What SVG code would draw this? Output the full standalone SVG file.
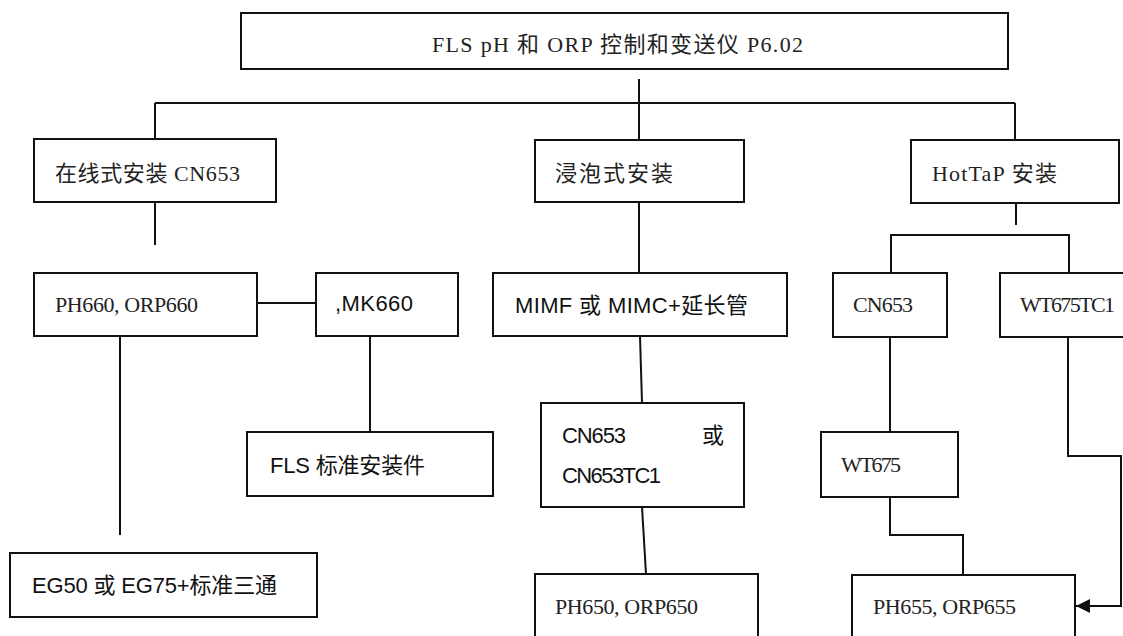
<svg xmlns="http://www.w3.org/2000/svg" width="1123" height="636" viewBox="0 0 1123 636">
  <defs>
    <style>
      .box { fill: #ffffff; stroke: #111111; stroke-width: 2; }
      .wire { fill: none; stroke: #111111; stroke-width: 2; }
      .serif { font-family: "Liberation Serif", "Noto Sans CJK SC", serif; font-size: 22px; fill: #222222; }
      .sans { font-family: "Liberation Sans", "Noto Sans CJK SC", sans-serif; font-size: 22px; fill: #111111; }
    </style>
    <marker id="arrowhead" viewBox="0 0 14 14" refX="14" refY="7" markerWidth="14" markerHeight="14" markerUnits="userSpaceOnUse" orient="auto">
      <path d="M0 0 L14 7 L0 14 Z" fill="#111111"/>
    </marker>
  </defs>
  <rect width="1123" height="636" fill="#ffffff"/>

  <!-- connectors -->
  <g id="connectors">
    <path class="wire" d="M639 79 V140"/>
    <path class="wire" d="M155 103 H1015"/>
    <path class="wire" d="M155 103 V139"/>
    <path class="wire" d="M1015 103 V140"/>
    <path class="wire" d="M155 202 V245"/>
    <path class="wire" d="M639 202 V273"/>
    <path class="wire" d="M1016 203 V225"/>
    <path class="wire" d="M891 273 V235 H1069 V273"/>
    <path class="wire" d="M257 303 H316"/>
    <path class="wire" d="M120 336 V535"/>
    <path class="wire" d="M370 316 V432"/>
    <path class="wire" d="M640 336 L642 403"/>
    <path class="wire" d="M642 507 L646 574"/>
    <path class="wire" d="M890 337 V432"/>
    <path class="wire" d="M890 497 V535 H963 V575"/>
    <path class="wire" d="M1068 337 V456 H1121 V606 H1076" marker-end="url(#arrowhead)"/>
  </g>

  <!-- root -->
  <g id="node-root">
    <rect class="box" x="241" y="13" width="767" height="56"/>
    <text class="serif" x="432" y="52" textLength="371">FLS pH 和 ORP 控制和变送仪 P6.02</text>
  </g>

  <!-- level 1 -->
  <g id="node-inline">
    <rect class="box" x="34" y="139" width="242" height="63"/>
    <text class="serif" x="55" y="181" textLength="185">在线式安装 CN653</text>
  </g>
  <g id="node-immersion">
    <rect class="box" x="535" y="140" width="209" height="62"/>
    <text class="serif" x="555" y="181" textLength="118">浸泡式安装</text>
  </g>
  <g id="node-hottap">
    <rect class="box" x="911" y="140" width="208" height="63"/>
    <text class="serif" x="932" y="181" textLength="125">HotTaP 安装</text>
  </g>

  <!-- level 2 -->
  <g id="node-ph660">
    <rect class="box" x="34" y="273" width="223" height="63"/>
    <text class="serif" x="55" y="312" textLength="143">PH660, ORP660</text>
  </g>
  <g id="node-mk660">
    <rect class="box" x="316" y="273" width="142" height="63"/>
    <text class="sans" x="335" y="311" textLength="78">,MK660</text>
  </g>
  <g id="node-mimf">
    <rect class="box" x="493" y="273" width="294" height="63"/>
    <text class="sans" x="515" y="313" textLength="233">MIMF 或 MIMC+延长管</text>
  </g>
  <g id="node-cn653-hot">
    <rect class="box" x="833" y="273" width="114" height="64"/>
    <text class="serif" x="853" y="312" textLength="60">CN653</text>
  </g>
  <g id="node-wt675tc1">
    <rect class="box" x="1000" y="273" width="130" height="64"/>
    <text class="serif" x="1020" y="312" textLength="95">WT675TC1</text>
  </g>

  <!-- level 3 -->
  <g id="node-fls">
    <rect class="box" x="247" y="432" width="246" height="64"/>
    <text class="sans" x="270" y="473" textLength="155">FLS 标准安装件</text>
  </g>
  <g id="node-cn653-tc1">
    <rect class="box" x="541" y="403" width="203" height="104"/>
    <text class="sans" y="443"><tspan x="562" textLength="64">CN653</tspan><tspan x="702">或</tspan></text>
    <text class="sans" x="562" y="483" textLength="99">CN653TC1</text>
  </g>
  <g id="node-wt675">
    <rect class="box" x="821" y="432" width="137" height="65"/>
    <text class="serif" x="841" y="472" textLength="60">WT675</text>
  </g>

  <!-- level 4 -->
  <g id="node-eg">
    <rect class="box" x="10" y="553" width="307" height="64"/>
    <text class="sans" x="32" y="593" textLength="245">EG50 或 EG75+标准三通</text>
  </g>
  <g id="node-ph650">
    <rect class="box" x="535" y="574" width="223" height="70"/>
    <text class="serif" x="555" y="614" textLength="143">PH650, ORP650</text>
  </g>
  <g id="node-ph655">
    <rect class="box" x="852" y="575" width="223" height="70"/>
    <text class="serif" x="873" y="614" textLength="143">PH655, ORP655</text>
  </g>
</svg>
